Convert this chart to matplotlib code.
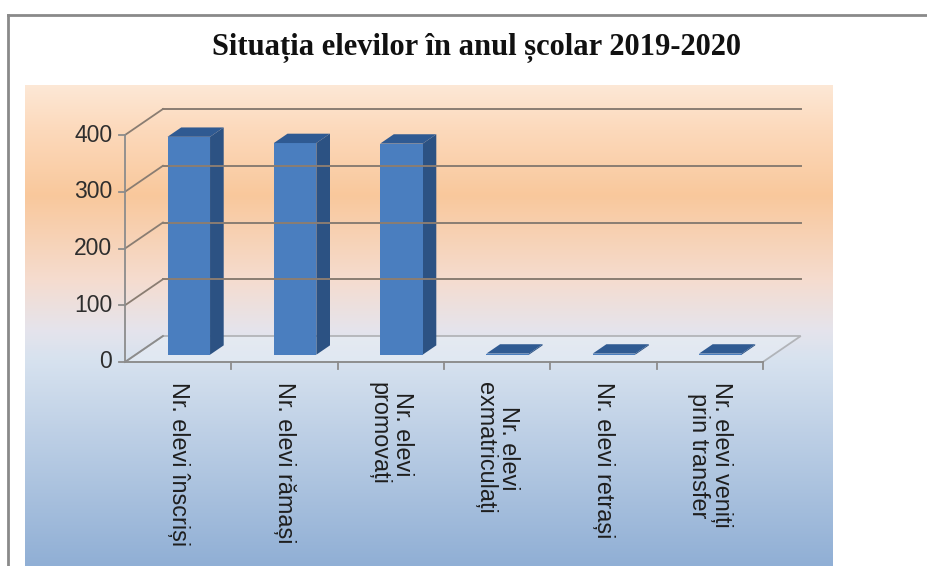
import numpy as np
import matplotlib
matplotlib.use("Agg")
import matplotlib.pyplot as plt
from matplotlib.patches import Polygon
from matplotlib.lines import Line2D
from matplotlib.colors import to_rgb

# data
categories = [
    "Nr. elevi înscriși",
    "Nr. elevi rămași",
    "Nr. elevi\npromovați",
    "Nr. elevi\nexmatriculați",
    "Nr. elevi retrași",
    "Nr. elevi veniți\nprin transfer",
]
values = [384, 373, 372, 2, 2, 2]
y_ticks = [0, 100, 200, 300, 400]
title = "Situația elevilor în anul școlar 2019-2020"

W, H = 927, 566
fig = plt.figure(figsize=(W / 100, H / 100), dpi=100)
fig.patch.set_facecolor("white")

# gradient background (pixel rows -> colour stops)
stops = [
    (85, "#fde8d6"),
    (130, "#fcd9bb"),
    (195, "#f9c89c"),
    (280, "#f5dccf"),
    (330, "#e5e4ec"),
    (360, "#d7e2ef"),
    (566, "#90afd5"),
]
rows = np.arange(85, 567)
sy = [s[0] for s in stops]
cols = np.array([to_rgb(s[1]) for s in stops])
grad = np.stack([np.interp(rows, sy, cols[:, k]) for k in range(3)], axis=-1)
grad = np.repeat(grad[:, None, :], 2, axis=1)

bg = fig.add_axes([25 / W, 0, (833 - 25) / W, (566 - 85) / H])
bg.imshow(grad, aspect="auto", extent=[0, 1, 0, 1])
bg.axis("off")

# outer frame
fig.add_artist(Line2D([8 / W, 1], [1 - 15 / H, 1 - 15 / H], color="#8a8a8a", lw=2))
fig.add_artist(Line2D([8 / W, 8 / W], [0, 1 - 15 / H], color="#8a8a8a", lw=2))

fig.text(476 / W, 1 - 48 / H, title, ha="center", va="center",
         fontsize=22, fontweight="bold", family="Liberation Serif", color="#111111")

# main axes: category units on x, values on y
ax = fig.add_axes([0, 0, 1, 1])
ax.set_xlim(-125 / 106.3, (927 - 125) / 106.3)
ax.set_ylim((362 - 566) / 0.5675, 362 / 0.5675)
ax.patch.set_alpha(0)
ax.axis("off")

DX, DY = 0.357, 45.8
n = len(categories)


def proj(x, v, d):
    return x + d * DX, v + d * DY


grid_c = "#8a7d72"
axis_c = "#8c8c8c"

# floor
floor = [proj(0, 0, 0), proj(n, 0, 0), proj(n, 0, 1), proj(0, 0, 1)]
ax.add_patch(Polygon(floor, closed=True, facecolor="#e8eef6", alpha=0.55,
                     edgecolor=axis_c, lw=1.3))

# back wall gridlines and side wall diagonals
for v in y_ticks:
    if v > 0:
        x0, y0 = proj(0, v, 1)
        x1, y1 = proj(n, v, 1)
        ax.plot([x0, x1], [y0, y1], color=grid_c, lw=1.4)
    a = proj(0, v, 0)
    b = proj(0, v, 1)
    ax.plot([a[0], b[0]], [a[1], b[1]], color=grid_c if v > 0 else axis_c, lw=1.3)
    ax.plot([-0.06, 0], [v, v], color=axis_c, lw=1.3)
    ax.text(-0.12, v, str(v), ha="right", va="center", fontsize=16.5,
            family="Liberation Sans", color="#2e2e2e")

ax.plot([0, 0], [0, y_ticks[-1]], color=axis_c, lw=1.3)
ax.plot([0, n], [0, 0], color=axis_c, lw=1.3)
for i in range(1, n + 1):
    ax.plot([i, i], [0, -12], color=axis_c, lw=1.3)

# bars
w = 0.4
d0, d1 = 0.28, 0.64
front_c, side_c, top_c = "#4a7ebf", "#2c5283", "#2f5a92"
for i, val in enumerate(values):
    xl, xr = i + 0.5 - w / 2, i + 0.5 + w / 2
    front = [proj(xl, 0, d0), proj(xr, 0, d0), proj(xr, val, d0), proj(xl, val, d0)]
    side = [proj(xr, 0, d0), proj(xr, 0, d1), proj(xr, val, d1), proj(xr, val, d0)]
    top = [proj(xl, val, d0), proj(xr, val, d0), proj(xr, val, d1), proj(xl, val, d1)]
    ax.add_patch(Polygon(side, closed=True, facecolor=side_c, edgecolor="none"))
    ax.add_patch(Polygon(front, closed=True, facecolor=front_c, edgecolor="none"))
    ax.add_patch(Polygon(top, closed=True, facecolor=top_c, edgecolor="none"))

# category labels
for i, lab in enumerate(categories):
    ax.text(i + 0.5, -36, lab, rotation=-90, ha="center", va="top",
            multialignment="center", fontsize=16.8, family="Liberation Sans",
            color="#1e1e1e", linespacing=1.0)

fig.savefig("out.png", dpi=100)
